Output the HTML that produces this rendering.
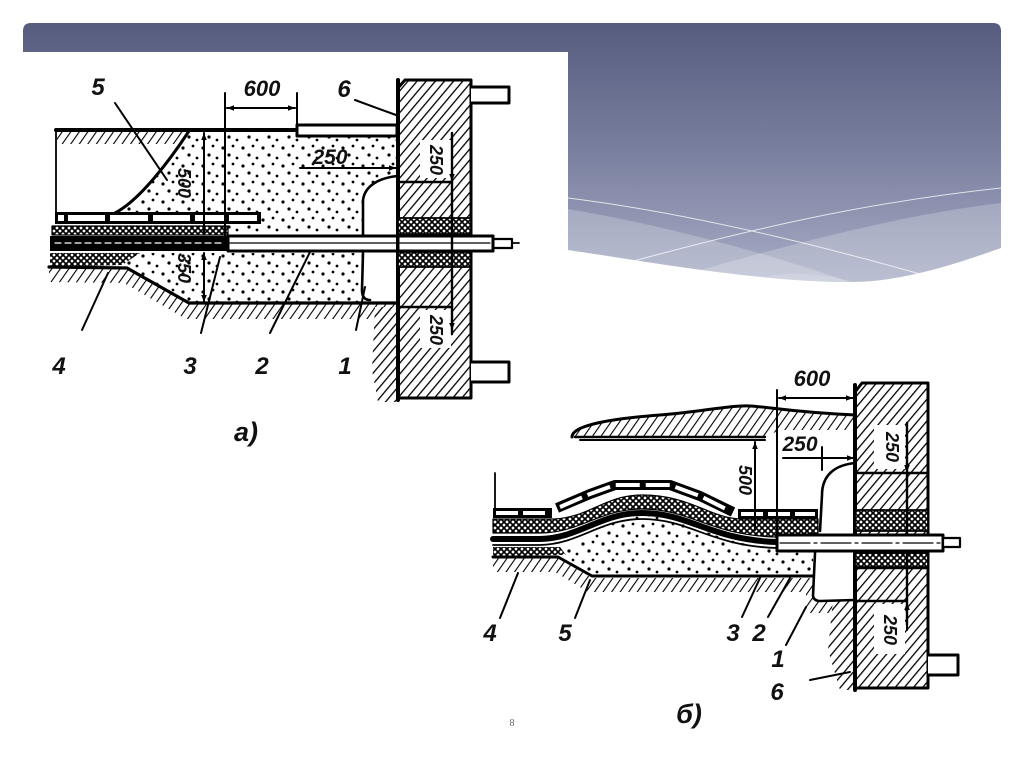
<!DOCTYPE html>
<html><head><meta charset="utf-8"><style>
html,body{margin:0;padding:0;background:#fff;}
svg{display:block;}
text{font-family:"Liberation Sans",sans-serif;font-style:italic;font-weight:bold;fill:#111;}
</style></head><body>
<svg width="1024" height="767" viewBox="0 0 1024 767" xmlns="http://www.w3.org/2000/svg">
<defs>
<linearGradient id="hg" gradientUnits="userSpaceOnUse" x1="0" y1="23" x2="0" y2="285">
<stop offset="0" stop-color="#565c7e"/><stop offset="0.5" stop-color="#7a809f"/><stop offset="1" stop-color="#a8aec6"/>
</linearGradient>
<clipPath id="hc"><path d="M23,31 Q23,23 31,23 L993,23 Q1001,23 1001,31 L1001,248 C950,266 900,282 850,282 C760,282 650,262 568,250 L23,200 Z"/></clipPath>
<pattern id="h" width="7" height="7" patternUnits="userSpaceOnUse" patternTransform="rotate(40)"><rect width="7" height="7" fill="#fff"/><line x1="0" y1="0" x2="0" y2="7" stroke="#000" stroke-width="2.6"/></pattern>
<pattern id="gh" width="7" height="7" patternUnits="userSpaceOnUse" patternTransform="rotate(35)"><line x1="0" y1="0" x2="0" y2="7" stroke="#000" stroke-width="2.2"/></pattern>
<pattern id="d" width="20" height="18" patternUnits="userSpaceOnUse"><circle cx="3" cy="4" r="1.6"/><circle cx="13" cy="2" r="1.4"/><circle cx="9" cy="11" r="1.6"/><circle cx="17" cy="14" r="1.4"/></pattern>
<pattern id="x" width="6" height="6" patternUnits="userSpaceOnUse"><rect width="6" height="6" fill="#fff"/><path d="M0,0 L6,6 M6,0 L0,6" stroke="#000" stroke-width="1.7"/></pattern>
<marker id="ar" viewBox="0 0 10 10" refX="10" refY="5" markerWidth="10" markerHeight="7" orient="auto-start-reverse" markerUnits="userSpaceOnUse"><path d="M0,1 L10,5 L0,9 Z" fill="#000"/></marker>
</defs>

<g clip-path="url(#hc)">
<rect x="20" y="20" width="990" height="270" fill="url(#hg)"/>
<path d="M568,209 C680,228 800,262 900,300 L568,300 Z" fill="#fff" opacity="0.22"/>
<path d="M1001,203 C900,215 780,245 600,300 L1001,300 Z" fill="#fff" opacity="0.22"/>
<path d="M700,300 C760,268 820,262 900,300 Z" fill="#fff" opacity="0.15"/>
<path d="M568,198 C680,212 800,240 920,274" stroke="#fff" stroke-opacity="0.75" stroke-width="1" fill="none"/>
<path d="M630,262 C740,232 860,203 1001,188" stroke="#fff" stroke-opacity="0.75" stroke-width="1" fill="none"/>
</g>
<rect x="20" y="52" width="548" height="250" fill="#fff"/>

<!-- ============ DRAWING A ============ -->
<g stroke-linecap="round" stroke-linejoin="round">
<path d="M189,131 L297,131 L297,137 L397,137 L397,176 C380,178 365,185 363,200 L363,235 L228,235 L228,225 L260,225 L260,213 L115,213 C140,200 170,160 189,131 Z" fill="url(#d)"/>
<path d="M118,253 L363,253 L363,303 L189,303 L127,268 Z" fill="url(#d)"/>
<polygon points="57,131 186,131 178,144 57,144" fill="url(#gh)"/>
<polygon points="49,268 127,269 189,304 397,304 397,319 186,319 124,283 49,282" fill="url(#gh)"/>
<polygon points="375,307 398,307 398,402 378,402 372,370" fill="url(#h)"/>
<path d="M56,130 L297,130" stroke="#000" stroke-width="4" fill="none"/>
<rect x="297" y="125" width="100" height="11" fill="#fff" stroke="#000" stroke-width="3"/>
<path d="M56,130 L56,213" stroke="#000" stroke-width="1.8"/>
<path d="M189,131 C170,160 140,200 115,213" stroke="#000" stroke-width="3" fill="none"/>
<rect x="55" y="212" width="206" height="12" fill="#000"/>
<g fill="#fff"><rect x="58" y="215" width="6" height="6"/><rect x="68" y="215" width="37" height="6"/><rect x="110" y="215" width="38" height="6"/><rect x="153" y="215" width="37" height="6"/><rect x="195" y="215" width="30" height="6"/><rect x="229" y="215" width="28" height="6"/></g>
<rect x="52" y="226" width="176" height="9" fill="url(#x)" stroke="#000" stroke-width="1.2"/>
<rect x="50" y="236" width="178" height="15" fill="#000"/>
<line x1="55" y1="243" x2="225" y2="243" stroke="#fff" stroke-width="1.2" stroke-dasharray="6 4"/>
<polygon points="50,253 140,253 122,265 50,267" fill="url(#x)"/>
<rect x="228" y="236" width="265" height="15" fill="#fff" stroke="#000" stroke-width="3"/>
<line x1="230" y1="243" x2="490" y2="243" stroke="#000" stroke-width="1.2"/>
<rect x="493" y="239" width="19" height="9" fill="#fff" stroke="#000" stroke-width="2.2"/>
<line x1="512" y1="243" x2="519" y2="243" stroke="#000" stroke-width="1.8"/>
<polyline points="49,267 127,268 189,303 397,303" stroke="#000" stroke-width="3.2" fill="none"/>
<path d="M397,176 C380,178 365,185 363,200 L363,235" stroke="#000" stroke-width="2.6" fill="none"/>
<path d="M363,253 L362,290 Q362,300 370,300" stroke="#000" stroke-width="2.6" fill="none"/>
<path d="M405,80 L471,80 L471,398 L398,398 L398,88 Z" fill="url(#h)" stroke="#000" stroke-width="3"/>
<line x1="398" y1="80" x2="398" y2="400" stroke="#000" stroke-width="4"/>
<rect x="420" y="140" width="31" height="38" fill="#fff"/>
<rect x="420" y="310" width="31" height="38" fill="#fff"/>
<rect x="398" y="218" width="73" height="16" fill="url(#x)" stroke="#000" stroke-width="1.8"/>
<rect x="398" y="252" width="73" height="15" fill="url(#x)" stroke="#000" stroke-width="1.8"/>
<rect x="398" y="235" width="73" height="16" fill="#fff"/>
<rect x="398" y="236" width="95" height="15" fill="#fff" stroke="#000" stroke-width="3"/>
<line x1="400" y1="243" x2="490" y2="243" stroke="#000" stroke-width="1.2"/>
<line x1="398" y1="182" x2="452" y2="182" stroke="#000" stroke-width="2.4"/>
<line x1="398" y1="307" x2="452" y2="307" stroke="#000" stroke-width="2.4"/>
<line x1="452" y1="133" x2="452" y2="334" stroke="#000" stroke-width="2.4"/>
<path d="M471,87 L509,87 L509,103 L471,103" fill="#fff" stroke="#000" stroke-width="3"/>
<path d="M471,362 L509,362 L509,382 L471,382" fill="#fff" stroke="#000" stroke-width="3"/>
<g stroke="#000" stroke-width="2" fill="none">
<line x1="225" y1="93" x2="225" y2="236"/>
<line x1="297" y1="93" x2="297" y2="125"/>
<line x1="227" y1="108" x2="295" y2="108" marker-start="url(#ar)" marker-end="url(#ar)"/>
<line x1="204" y1="234" x2="204" y2="133" marker-end="url(#ar)"/>
<line x1="204" y1="253" x2="204" y2="302" marker-start="url(#ar)" marker-end="url(#ar)"/>
<line x1="300" y1="168" x2="396" y2="168" marker-end="url(#ar)"/>
<line x1="452" y1="150" x2="452" y2="181" marker-end="url(#ar)"/>
<line x1="452" y1="290" x2="452" y2="330" marker-end="url(#ar)"/>
<line x1="115" y1="103" x2="167" y2="180"/>
<line x1="355" y1="100" x2="396" y2="115"/>
<line x1="82" y1="330" x2="108" y2="273"/>
<line x1="201" y1="333" x2="220" y2="257"/>
<line x1="270" y1="333" x2="310" y2="252"/>
<line x1="356" y1="330" x2="365" y2="287"/>
</g>
<text x="98" y="95" font-size="24" text-anchor="middle">5</text>
<text x="262" y="96" font-size="22" text-anchor="middle">600</text>
<text x="344" y="97" font-size="24" text-anchor="middle">6</text>
<text x="330" y="164" font-size="21" text-anchor="middle">250</text>
<text x="0" y="0" font-size="18" text-anchor="middle" transform="translate(178,183) rotate(90)">500</text>
<text x="0" y="0" font-size="18" text-anchor="middle" transform="translate(178,268) rotate(90)">350</text>
<text x="0" y="0" font-size="18" text-anchor="middle" transform="translate(430,160) rotate(90)">250</text>
<text x="0" y="0" font-size="18" text-anchor="middle" transform="translate(430,330) rotate(90)">250</text>
<text x="59" y="374" font-size="24" text-anchor="middle">4</text>
<text x="190" y="374" font-size="24" text-anchor="middle">3</text>
<text x="262" y="374" font-size="24" text-anchor="middle">2</text>
<text x="345" y="374" font-size="24" text-anchor="middle">1</text>
<text x="246" y="441" font-size="27" text-anchor="middle" font-weight="normal">a)</text>
</g>

<!-- ============ DRAWING B ============ -->
<g stroke-linecap="round" stroke-linejoin="round">
<path d="M572,437 C575,420 620,418 660,415 C700,412 730,405 750,406 C770,407 790,412 855,415 L855,430 L780,430 L765,437 Z" fill="url(#gh)"/>
<path d="M572,437 C572,424 620,418 660,415 C700,412 730,405 750,406 C770,407 790,412 855,415" stroke="#000" stroke-width="3" fill="none"/>
<line x1="575" y1="437" x2="765" y2="437" stroke="#000" stroke-width="2.4"/>
<path d="M560,546 C590,545 600,516 642,516 C690,516 710,543 775,548 L813,552 L813,577 L592,577 L558,557 Z" fill="url(#d)"/>
<polygon points="493,558 558,558 592,578 813,578 813,601 833,601 833,613 806,613 806,592 588,592 555,572 493,572" fill="url(#gh)"/>
<polygon points="833,600 855,600 855,690 840,690 828,650" fill="url(#h)"/>
<path d="M493,519 L555,519 C590,517 605,495 642,495 C690,495 710,518 740,519 L818,519 L818,533 L775,537 C710,535 690,509 642,509 C600,509 580,533 540,533 L493,533 Z" fill="url(#x)" stroke="#000" stroke-width="1.2"/>
<path d="M493,513 L552,513" stroke="#000" stroke-width="10" fill="none" stroke-linecap="butt"/>
<path d="M496,513 L549,513" stroke="#fff" stroke-width="4" fill="none" stroke-dasharray="22 5" stroke-linecap="butt"/>
<path d="M557,508 L590,494 L615,485 L670,485 L700,496 L733,512" stroke="#000" stroke-width="10" fill="none" stroke-linecap="butt"/>
<path d="M560,507 L590,494 L615,485 L670,485 L700,496 L730,511" stroke="#fff" stroke-width="4" fill="none" stroke-dasharray="24 6" stroke-linecap="butt"/>
<path d="M738,514 L818,514" stroke="#000" stroke-width="10" fill="none" stroke-linecap="butt"/>
<path d="M741,514 L815,514" stroke="#fff" stroke-width="4" fill="none" stroke-dasharray="22 5" stroke-linecap="butt"/>
<path d="M493,539 L540,539 C580,538 600,513 642,513 C690,513 710,540 777,542" stroke="#000" stroke-width="6" fill="none"/>
<path d="M493,545 L540,545 C580,544 600,519 642,519 C690,519 710,546 777,548" stroke="#000" stroke-width="1.8" fill="none"/>
<polygon points="493,547 560,547 566,555 493,556" fill="url(#x)"/>
<polyline points="493,557 558,557 592,576 813,576" stroke="#000" stroke-width="3" fill="none"/>
<path d="M815,553 L813,596 Q814,601 820,601 L855,600" stroke="#000" stroke-width="2.6" fill="none"/>
<line x1="495" y1="473" x2="495" y2="509" stroke="#000" stroke-width="1.8"/>
<path d="M862,383 L928,383 L928,688 L855,688 L855,392 Z" fill="url(#h)" stroke="#000" stroke-width="3"/>
<line x1="855" y1="385" x2="855" y2="690" stroke="#000" stroke-width="4"/>
<rect x="874" y="425" width="31" height="44" fill="#fff"/>
<rect x="874" y="604" width="31" height="50" fill="#fff"/>
<rect x="855" y="510" width="73" height="21" fill="url(#x)" stroke="#000" stroke-width="1.8"/>
<rect x="855" y="553" width="73" height="14" fill="url(#x)" stroke="#000" stroke-width="1.8"/>
<line x1="855" y1="473" x2="928" y2="473" stroke="#000" stroke-width="2.4"/>
<line x1="855" y1="568" x2="928" y2="568" stroke="#000" stroke-width="2.4"/>
<line x1="855" y1="601" x2="907" y2="601" stroke="#000" stroke-width="2.4"/>
<line x1="907" y1="423" x2="907" y2="625" stroke="#000" stroke-width="2.4"/>
<rect x="777" y="535" width="166" height="16" fill="#fff" stroke="#000" stroke-width="3"/>
<line x1="780" y1="543" x2="940" y2="543" stroke="#000" stroke-width="1.2" stroke-dasharray="30 4 3 4"/>
<rect x="943" y="538" width="17" height="9" fill="#fff" stroke="#000" stroke-width="2.2"/>
<path d="M928,655 L958,655 L958,675 L928,675" fill="#fff" stroke="#000" stroke-width="3"/>
<path d="M855,463 C835,465 822,475 822,495 L820,531" stroke="#000" stroke-width="2.6" fill="none"/>
<g stroke="#000" stroke-width="2" fill="none">
<line x1="777" y1="390" x2="777" y2="535"/>
<line x1="779" y1="398" x2="853" y2="398" marker-start="url(#ar)" marker-end="url(#ar)"/>
<line x1="783" y1="458" x2="854" y2="458" marker-end="url(#ar)"/>
<line x1="822" y1="447" x2="822" y2="470"/>
<line x1="580" y1="440" x2="765" y2="440"/>
<line x1="755" y1="530" x2="755" y2="442" marker-end="url(#ar)"/>
<line x1="907" y1="440" x2="907" y2="472" marker-end="url(#ar)"/>
<line x1="907" y1="630" x2="907" y2="603" marker-end="url(#ar)"/>
<line x1="500" y1="618" x2="518" y2="573"/>
<line x1="575" y1="618" x2="590" y2="580"/>
<line x1="742" y1="617" x2="760" y2="578"/>
<line x1="768" y1="617" x2="790" y2="578"/>
<line x1="786" y1="645" x2="806" y2="607"/>
<line x1="810" y1="680" x2="850" y2="672"/>
</g>
<text x="812" y="386" font-size="22" text-anchor="middle">600</text>
<text x="800" y="451" font-size="21" text-anchor="middle">250</text>
<text x="0" y="0" font-size="18" text-anchor="middle" transform="translate(739,480) rotate(90)">500</text>
<text x="0" y="0" font-size="18" text-anchor="middle" transform="translate(886,447) rotate(90)">250</text>
<text x="0" y="0" font-size="18" text-anchor="middle" transform="translate(884,630) rotate(90)">250</text>
<text x="490" y="641" font-size="24" text-anchor="middle">4</text>
<text x="565" y="641" font-size="24" text-anchor="middle">5</text>
<text x="733" y="641" font-size="24" text-anchor="middle">3</text>
<text x="759" y="641" font-size="24" text-anchor="middle">2</text>
<text x="778" y="667" font-size="24" text-anchor="middle">1</text>
<text x="777" y="700" font-size="24" text-anchor="middle">6</text>
<text x="689" y="723" font-size="27" text-anchor="middle" font-weight="normal">б)</text>
</g>
<text x="512" y="726" font-size="10" text-anchor="middle" style="font-family:'Liberation Serif',serif;font-style:normal;font-weight:normal;fill:#666;">8</text>
</svg>
</body></html>
